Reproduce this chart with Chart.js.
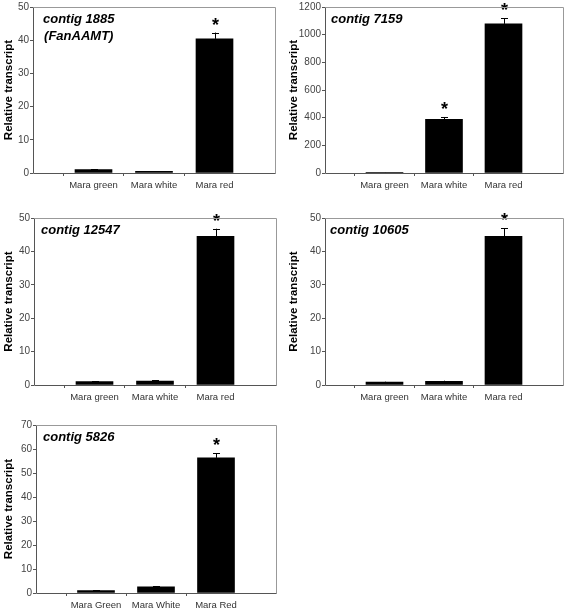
<!DOCTYPE html>
<html>
<head>
<meta charset="utf-8">
<script src="https://cdn.jsdelivr.net/npm/chart.js@4.4.0/dist/chart.umd.min.js"></script>
<style>
  body { margin: 0; background: #fff; }
  #wrap { position: relative; width: 567px; height: 611px; }
  #wrap canvas { position: absolute; left: 0; top: 0; }
</style>
</head>
<body>
<div id="wrap">
  <canvas id="c1" width="567" height="611"></canvas>
  <canvas id="c2" width="567" height="611"></canvas>
  <canvas id="c3" width="567" height="611"></canvas>
  <canvas id="c4" width="567" height="611"></canvas>
  <canvas id="c5" width="567" height="611"></canvas>
</div>
<script>
// categories
const stagesLower = ['Mara green', 'Mara white', 'Mara red'];
const stagesUpper = ['Mara Green', 'Mara White', 'Mara Red'];

// contig 1885 (FanAAMT)
const contig1885 = [1.0, 0.5, 40.4];
const contig1885Err = [0.2, 0.1, 1.9];
const contig1885Sig = [false, false, true];

// contig 7159
const contig7159 = [1, 388, 1078];
const contig7159Err = [1, 17, 42];
const contig7159Sig = [false, true, true];

// contig 12547
const contig12547 = [1.0, 1.2, 44.5];
const contig12547Err = [0.15, 0.2, 2.3];
const contig12547Sig = [false, false, true];

// contig 10605
const contig10605 = [0.9, 1.1, 44.5];
const contig10605Err = [0.1, 0.2, 2.4];
const contig10605Sig = [false, false, true];

// contig 5826
const contig5826 = [1.0, 2.6, 56.3];
const contig5826Err = [0.2, 0.3, 1.9];
const contig5826Sig = [false, false, true];

const FONT = "'Liberation Sans', Arial, sans-serif";
const AXIS_DARK = '#555';
const FRAME_GRAY = '#999';
const X_AXIS_H = 20;

function makeDeco(panel) {
    return {
        id: 'deco' + panel.id,
        afterDatasetsDraw(chart) {
            const ctx = chart.ctx;
            const yScale = chart.scales.y;
            const meta = chart.getDatasetMeta(0);
            ctx.save();
            ctx.strokeStyle = '#000';
            ctx.lineWidth = 1;
            meta.data.forEach((bar, i) => {
                if (i === 0 || i > panel.values.length) return;
                const k = i - 1;
                const x = Math.round(bar.x) + 0.5;
                const top = yScale.getPixelForValue(panel.values[k] + panel.errors[k]);
                ctx.beginPath();
                ctx.moveTo(x, bar.y);
                ctx.lineTo(x, top);
                ctx.moveTo(x - 3.5, Math.round(top) + 0.5);
                ctx.lineTo(x + 3.5, Math.round(top) + 0.5);
                ctx.stroke();
                if (panel.sig[k]) {
                    ctx.fillStyle = '#000';
                    ctx.font = 'bold 18px ' + FONT;
                    ctx.textAlign = 'center';
                    ctx.textBaseline = 'alphabetic';
                    ctx.fillText('*', x, top - 2);
                }
            });
            ctx.restore();
        },
        afterDraw(chart) {
            const ctx = chart.ctx;
            const a = chart.chartArea;
            const l = Math.round(a.left) + 0.5;
            const r = Math.round(a.right) + 0.5;
            const t = Math.round(a.top) + 0.5;
            const btm = Math.round(a.bottom) + 0.5;
            ctx.save();
            ctx.lineWidth = 1;
            ctx.strokeStyle = FRAME_GRAY;
            ctx.beginPath();
            ctx.moveTo(l, t);
            ctx.lineTo(r, t);
            ctx.lineTo(r, btm);
            ctx.stroke();
            ctx.strokeStyle = AXIS_DARK;
            ctx.beginPath();
            ctx.moveTo(l, t);
            ctx.lineTo(l, btm);
            ctx.lineTo(r, btm);
            ctx.stroke();

            // panel title, lines centred on each other
            ctx.fillStyle = '#000';
            ctx.font = 'italic bold 13px ' + FONT;
            ctx.textBaseline = 'alphabetic';
            ctx.textAlign = 'center';
            let widest = 0;
            panel.title.forEach(s => { widest = Math.max(widest, ctx.measureText(s).width); });
            const cx = a.left + (panel.titleInset || 7) + widest / 2;
            panel.title.forEach((s, i) => {
                ctx.fillText(s, cx, a.top + 16 + i * 17);
            });
            ctx.restore();
        }
    };
}

function makeChart(panel) {
    const labels = [''].concat(panel.labels, ['']);
    const data = [null].concat(panel.values, [null]);
    const b = panel.box;
    return new Chart(document.getElementById(panel.id), {
        type: 'bar',
        data: {
            labels: labels,
            datasets: [{
                data: data,
                backgroundColor: '#000',
                borderWidth: 0,
                barThickness: 37
            }]
        },
        options: {
            responsive: false,
            animation: false,
            layout: {
                padding: {
                    left: b.L,
                    top: b.top,
                    right: 567 - b.right,
                    bottom: 611 - b.bottom - X_AXIS_H
                }
            },
            plugins: {
                legend: { display: false },
                tooltip: { enabled: false }
            },
            scales: {
                x: {
                    type: 'category',
                    offset: false,
                    border: { display: false },
                    grid: {
                        drawOnChartArea: false,
                        drawTicks: true,
                        tickLength: 3,
                        color: (c) => (c.index === 0 || c.index === labels.length - 1) ? 'rgba(0,0,0,0)' : AXIS_DARK
                    },
                    ticks: {
                        autoSkip: false,
                        maxRotation: 0,
                        padding: 4,
                        color: '#333',
                        font: { family: FONT, size: 9.5 }
                    },
                    afterFit: (scale) => { scale.height = X_AXIS_H; }
                },
                y: {
                    min: 0,
                    max: panel.max,
                    border: { display: false },
                    grid: {
                        drawOnChartArea: false,
                        drawTicks: true,
                        tickLength: 3,
                        color: AXIS_DARK
                    },
                    ticks: {
                        stepSize: panel.step,
                        padding: 1,
                        color: '#444',
                        font: { family: FONT, size: 10 },
                        callback: (v) => String(v)
                    },
                    title: {
                        display: true,
                        text: 'Relative transcript',
                        color: '#000',
                        padding: { top: 2, bottom: 0 },
                        font: { family: FONT, size: 11.5, weight: 'bold' }
                    },
                    afterFit: (scale) => { scale.width = b.left - b.L; }
                }
            }
        },
        plugins: [makeDeco(panel)]
    });
}

makeChart({
    id: 'c1', labels: stagesLower, values: contig1885, errors: contig1885Err, sig: contig1885Sig,
    title: ['contig 1885', '(FanAAMT)'], titleInset: 10, max: 50, step: 10,
    box: { L: 0, left: 33, top: 6, right: 275, bottom: 173 }
});
makeChart({
    id: 'c2', labels: stagesLower, values: contig7159, errors: contig7159Err, sig: contig7159Sig,
    title: ['contig 7159'], titleInset: 6, max: 1200, step: 200,
    box: { L: 285, left: 325, top: 6, right: 563, bottom: 173 }
});
makeChart({
    id: 'c3', labels: stagesLower, values: contig12547, errors: contig12547Err, sig: contig12547Sig,
    title: ['contig 12547'], max: 50, step: 10,
    box: { L: 0, left: 34, top: 218, right: 276, bottom: 385 }
});
makeChart({
    id: 'c4', labels: stagesLower, values: contig10605, errors: contig10605Err, sig: contig10605Sig,
    title: ['contig 10605'], titleInset: 5, max: 50, step: 10,
    box: { L: 285, left: 325, top: 218, right: 564, bottom: 385 }
});
makeChart({
    id: 'c5', labels: stagesUpper, values: contig5826, errors: contig5826Err, sig: contig5826Sig,
    title: ['contig 5826'], max: 70, step: 10,
    box: { L: 0, left: 36, top: 425, right: 276, bottom: 593 }
});
</script>
</body>
</html>
